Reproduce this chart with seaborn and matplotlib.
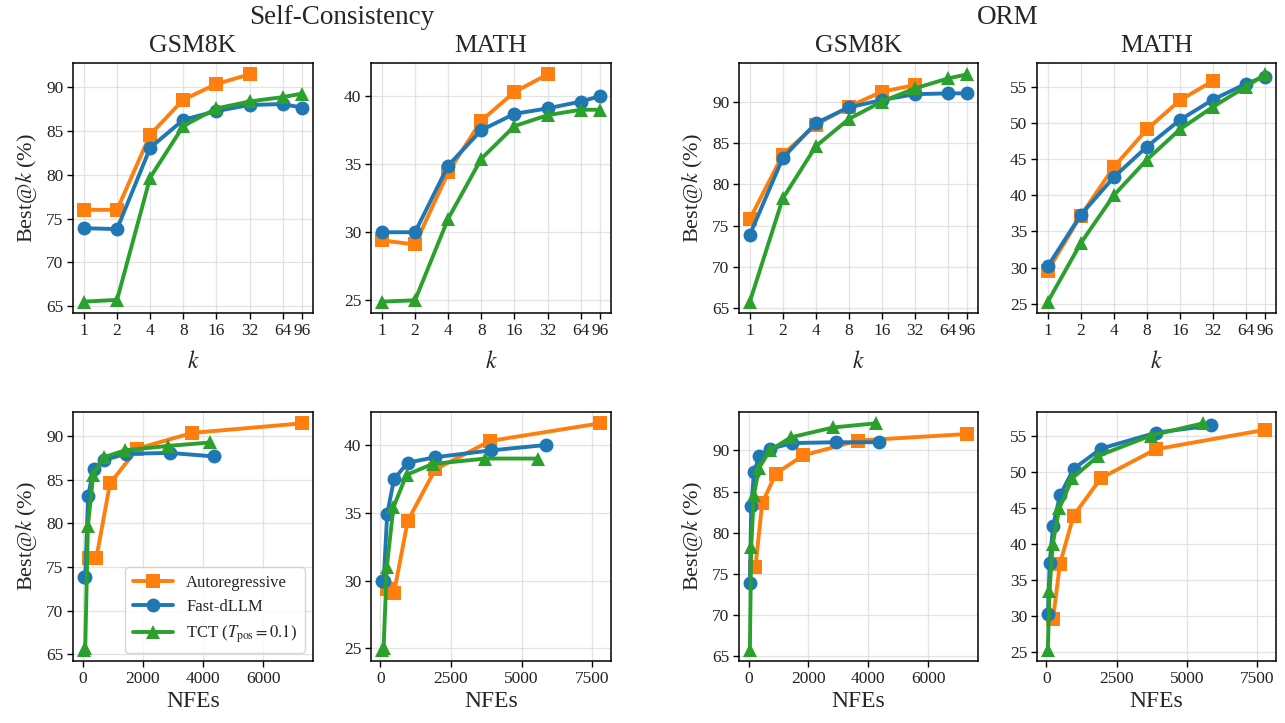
import matplotlib
matplotlib.use("Agg")
import matplotlib.pyplot as plt
import seaborn as sns
import numpy as np

# ---------------- data ----------------
K_AR = [1, 2, 4, 8, 16, 32]
K_DLLM = [1, 2, 4, 8, 16, 32, 64, 96]
K_TICKS = [1, 2, 4, 8, 16, 32, 64, 96]
K_TICKLABELS = ["1", "2", "4", "8", "16", "32", "64", "96"]

# Self-Consistency
SC_GSM8K_AR = [76.0, 76.0, 84.6, 88.6, 90.4, 91.5]
SC_GSM8K_FAST = [73.9, 73.8, 83.1, 86.3, 87.3, 88.0, 88.1, 87.7]
SC_GSM8K_TCT = [65.5, 65.7, 79.7, 85.6, 87.6, 88.4, 88.9, 89.3]

SC_MATH_AR = [29.4, 29.1, 34.4, 38.2, 40.3, 41.6]
SC_MATH_FAST = [30.0, 30.0, 34.9, 37.5, 38.7, 39.1, 39.6, 40.0]
SC_MATH_TCT = [24.9, 25.0, 31.0, 35.4, 37.8, 38.6, 39.0, 39.0]

# ORM
ORM_GSM8K_AR = [75.8, 83.6, 87.2, 89.4, 91.2, 92.0]
ORM_GSM8K_FAST = [73.9, 83.2, 87.4, 89.3, 90.2, 90.9, 91.0, 91.0]
ORM_GSM8K_TCT = [65.8, 78.3, 84.6, 87.9, 90.0, 91.6, 92.8, 93.3]

ORM_MATH_AR = [29.6, 37.2, 43.9, 49.1, 53.1, 55.8]
ORM_MATH_FAST = [30.2, 37.3, 42.5, 46.7, 50.4, 53.2, 55.4, 56.4]
ORM_MATH_TCT = [25.3, 33.4, 40.0, 44.9, 49.1, 52.2, 55.0, 56.7]

# NFEs (read from bottom row)
NFE_GSM8K_AR = [228, 456, 912, 1824, 3648, 7296]
NFE_GSM8K_FAST = [45, 91, 182, 363, 726, 1452, 2904, 4356]
NFE_GSM8K_TCT = [44, 88, 177, 354, 707, 1414, 2829, 4243]
NFE_MATH_AR = [243, 486, 972, 1944, 3888, 7776]
NFE_MATH_FAST = [61, 122, 244, 488, 976, 1952, 3904, 5856]
NFE_MATH_TCT = [58, 116, 232, 464, 928, 1856, 3712, 5568]

LABELS = ["Autoregressive", "Fast-dLLM", r"TCT ($T_{\mathrm{pos}}=0.1$)"]
GROUPS = ["Self-Consistency", "ORM"]
DATASETS = ["GSM8K", "MATH"]

# ---------------- style ----------------
sns.set_theme(style="ticks")
plt.rcParams["font.family"] = ["Liberation Serif", "DejaVu Serif"]
plt.rcParams["mathtext.fontset"] = "stix"

COLORS = ["#ff7f0e", "#1f77b4", "#2ca02c"]
MARKERS = ["s", "o", "^"]

W, H = 1285, 723
fig = plt.figure(figsize=(W / 100, H / 100), dpi=100)

def px_axes(left, top, right, bottom):
    return fig.add_axes([left / W, 1 - bottom / H, (right - left) / W, (bottom - top) / H])

col_x = [(73, 313), (371, 611), (739, 978), (1037, 1276)]
row_y = [(63, 313), (412, 661)]

panels = [
    (SC_GSM8K_AR, SC_GSM8K_FAST, SC_GSM8K_TCT, NFE_GSM8K_AR, NFE_GSM8K_FAST, NFE_GSM8K_TCT),
    (SC_MATH_AR, SC_MATH_FAST, SC_MATH_TCT, NFE_MATH_AR, NFE_MATH_FAST, NFE_MATH_TCT),
    (ORM_GSM8K_AR, ORM_GSM8K_FAST, ORM_GSM8K_TCT, NFE_GSM8K_AR, NFE_GSM8K_FAST, NFE_GSM8K_TCT),
    (ORM_MATH_AR, ORM_MATH_FAST, ORM_MATH_TCT, NFE_MATH_AR, NFE_MATH_FAST, NFE_MATH_TCT),
]

def style_ax(ax):
    ax.grid(True, color="#dcdcdc", linewidth=0.9, alpha=0.8)
    ax.set_axisbelow(True)
    for s in ax.spines.values():
        s.set_color("black")
        s.set_linewidth(1.1)
        s.set_visible(True)
    ax.tick_params(axis="both", which="major", direction="out", length=4, width=1,
                   color="black", labelsize=12.5, pad=3, labelcolor="#222222")
    ax.tick_params(axis="both", which="minor", length=0)

for ci, (ar, fa, tc, nar, nfa, ntc) in enumerate(panels):
    ys = [ar, fa, tc]
    ks = [K_AR, K_DLLM, K_DLLM]
    nfes = [nar, nfa, ntc]
    for ri in range(2):
        x0, x1 = col_x[ci]
        y0, y1 = row_y[ri]
        ax = px_axes(x0, y0, x1, y1)
        for si in range(3):
            xs = ks[si] if ri == 0 else nfes[si]
            sns.lineplot(x=xs, y=ys[si], ax=ax, color=COLORS[si], marker=MARKERS[si],
                         markersize=10, linewidth=2.8, markeredgewidth=0,
                         label=LABELS[si], sort=False, errorbar=None)
        if ax.get_legend() is not None:
            ax.get_legend().remove()
        style_ax(ax)
        if ri == 0:
            ax.set_xscale("log", base=2)
            ax.set_xticks(K_TICKS)
            ax.set_xticklabels(K_TICKLABELS)
            ax.xaxis.set_minor_locator(matplotlib.ticker.NullLocator())
            ax.set_xlabel("$k$", fontsize=17, labelpad=9)
            ax.set_title(DATASETS[ci % 2], fontsize=18.5, pad=8)
        else:
            ax.set_xlabel("NFEs", fontsize=17, labelpad=3)
        ax.yaxis.set_major_locator(matplotlib.ticker.MultipleLocator(5))
        if ci % 2 == 0:
            ax.set_ylabel(r"Best@$k$ (%)", fontsize=16, labelpad=5)
        else:
            ax.set_ylabel("")
        if ri == 1 and ci == 0:
            leg = ax.legend(loc="lower right", fontsize=12, handlelength=2.4,
                            frameon=True, fancybox=True, borderpad=0.45,
                            labelspacing=0.5, handletextpad=0.8)
            leg.get_frame().set_edgecolor("#cccccc")
            leg.get_frame().set_linewidth(1.0)

# group titles
fig.text((73 + 611) / 2 / W, 1 - 17 / H, GROUPS[0], ha="center", va="center", fontsize=19.5)
fig.text((739 + 1276) / 2 / W, 1 - 17 / H, GROUPS[1], ha="center", va="center", fontsize=19.5)

fig.savefig("out.png", dpi=100, facecolor="white")
